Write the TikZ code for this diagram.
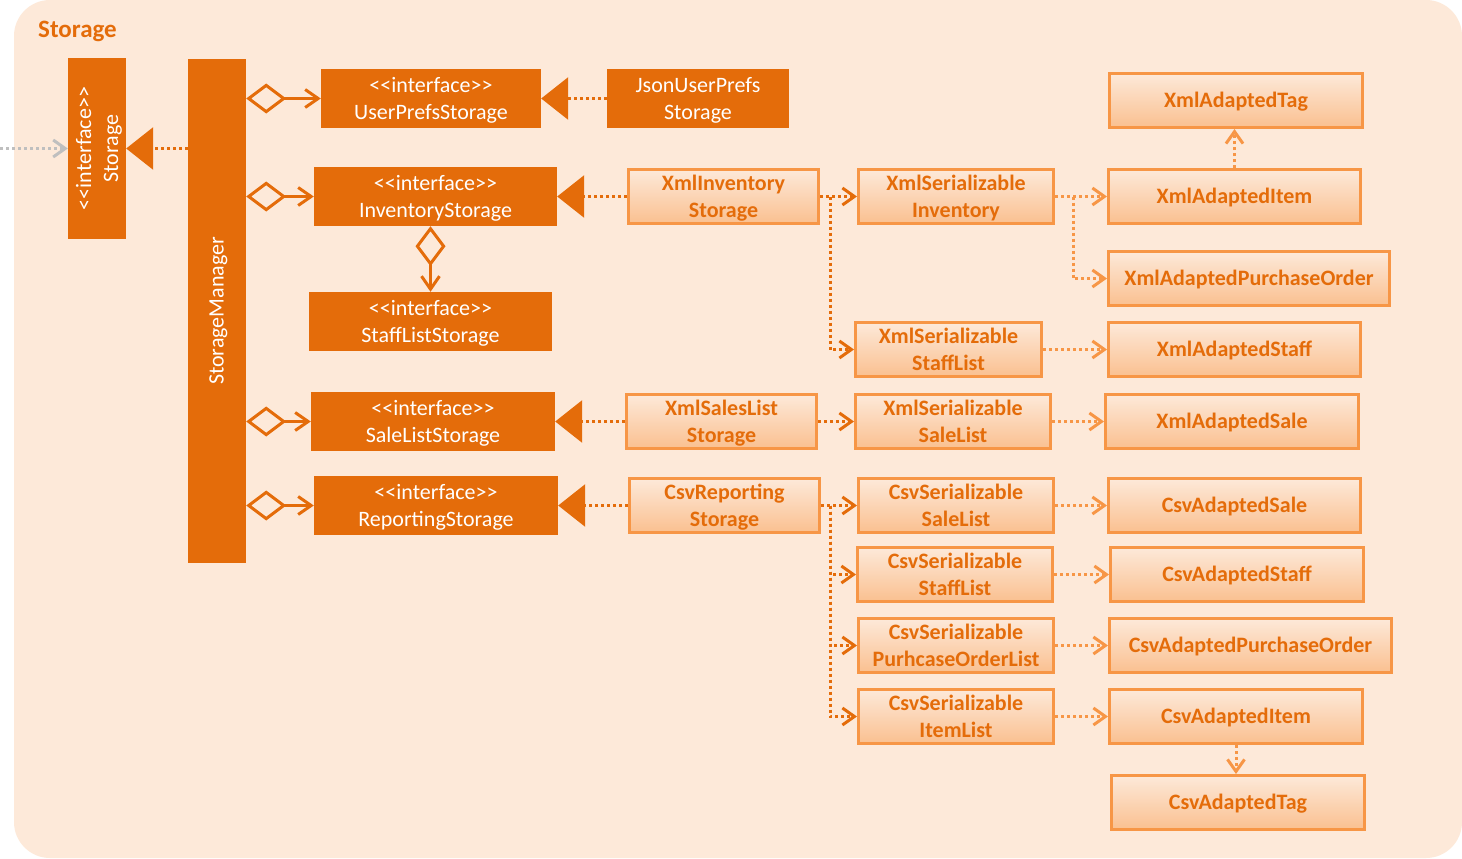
\documentclass[tikz,border=0pt]{standalone}
\usepackage{fontspec}
\setmainfont{Carlito}
\usetikzlibrary{arrows.meta,calc}
\definecolor{panelbg}{HTML}{FDE9D9}
\definecolor{dorange}{HTML}{E46C0A}
\definecolor{lorange}{HTML}{F79646}
\definecolor{gradbot}{HTML}{FAC090}
\definecolor{arrgray}{HTML}{BFBFBF}
\newcommand\ifacetext{<\kern0pt<interface>\kern0pt>}
\newcommand\dbox[7]{\node[darkbox, #7, minimum width={#4-#2}, minimum height={#5-#3}] (#1) at ({(#2+#4)/2},{(#3+#5)/2}) {#6};}
\newcommand\lbox[7]{\node[lightbox, #7, minimum width={#4-#2-3}, minimum height={#5-#3-3}] (#1) at ({(#2+#4)/2},{(#3+#5)/2}) {#6};}
\begin{document}
\begin{tikzpicture}[x=1pt,y=-1pt,
  darkbox/.style={fill=dorange, draw=none, text=white, align=center, inner sep=0pt, font=\fontsize{22}{27}\selectfont},
  lightbox/.style={draw=lorange, line width=3pt, top color=panelbg, bottom color=gradbot, text=dorange, align=center, inner sep=0pt, font=\bfseries\fontsize{22}{27}\selectfont},
  twoline/.style={text height=44pt, text depth=2pt},
  oneline/.style={text height=17pt, text depth=4pt},
  rotlabel/.style={rotate=90, text=white, align=center, inner sep=0pt, font=\fontsize{22}{27}\selectfont},
  agg/.style={draw=dorange, line width=3pt, arrows={Diamond[open, length=40pt, width=30pt]-Straight Barb[length=13pt, width=18pt]}},
  real/.style={draw=dorange, line width=3pt, dash pattern=on 3pt off 3pt, arrows={-Triangle[length=27pt, width=42pt]}},
  dep/.style={draw=dorange, line width=3pt, dash pattern=on 3pt off 3pt, arrows={-Straight Barb[length=12pt, width=17pt]}},
  depl/.style={dep, draw=lorange},
  gdep/.style={dep, draw=arrgray}]
\useasboundingbox (0,0) rectangle (1462,859);
\fill[white] (0,0) rectangle (1462,859);
\fill[panelbg, rounded corners=36pt] (14,0) rectangle (1462,858);
\node[anchor=west, text=dorange, inner sep=0pt, font=\bfseries\fontsize{25}{28}\selectfont] (title) at (38,31) {Storage};
% dark boxes
\dbox{storage}{68}{58}{126}{239}{}{}
\node[rotlabel, twoline] (storagelbl) at (storage) {\ifacetext\\Storage};
\dbox{sm}{188}{59}{246}{563}{}{}
\node[rotlabel, oneline] (smlbl) at (sm) {StorageManager};
\dbox{ups}{321}{69}{541}{128}{\ifacetext\\UserPrefsStorage}{twoline}
\dbox{json}{607}{69}{789}{128}{JsonUserPrefs\\Storage}{twoline}
\dbox{inv}{314}{167}{557}{226}{\ifacetext\\InventoryStorage}{twoline}
\dbox{staff}{309}{292}{552}{351}{\ifacetext\\StaffListStorage}{twoline}
\dbox{sale}{311}{392}{555}{451}{\ifacetext\\SaleListStorage}{twoline}
\dbox{rep}{314}{476}{558}{535}{\ifacetext\\ReportingStorage}{twoline}
% light boxes
\lbox{xinv}{627}{168}{820}{225}{XmlInventory\\Storage}{twoline}
\lbox{xsinv}{857}{168}{1055}{225}{XmlSerializable\\Inventory}{twoline}
\lbox{xtag}{1108}{72}{1364}{129}{XmlAdaptedTag}{oneline}
\lbox{xitem}{1107}{168}{1362}{225}{XmlAdaptedItem}{oneline}
\lbox{xpo}{1107}{250}{1391}{307}{XmlAdaptedPurchaseOrder}{oneline}
\lbox{xsstaff}{854}{321}{1043}{378}{XmlSerializable\\StaffList}{twoline}
\lbox{xstaff}{1107}{321}{1362}{378}{XmlAdaptedStaff}{oneline}
\lbox{xsales}{625}{393}{818}{450}{XmlSalesList\\Storage}{twoline}
\lbox{xssale}{854}{393}{1052}{450}{XmlSerializable\\SaleList}{twoline}
\lbox{xsale}{1104}{393}{1360}{450}{XmlAdaptedSale}{oneline}
\lbox{crep}{628}{477}{821}{534}{CsvReporting\\Storage}{twoline}
\lbox{cssale}{857}{477}{1055}{534}{CsvSerializable\\SaleList}{twoline}
\lbox{csale}{1107}{477}{1362}{534}{CsvAdaptedSale}{oneline}
\lbox{csstaff}{856}{546}{1054}{603}{CsvSerializable\\StaffList}{twoline}
\lbox{cstaff}{1109}{546}{1365}{603}{CsvAdaptedStaff}{oneline}
\lbox{cspo}{857}{617}{1055}{674}{CsvSerializable\\PurhcaseOrderList}{twoline}
\lbox{cpo}{1108}{617}{1393}{674}{CsvAdaptedPurchaseOrder}{oneline}
\lbox{csitem}{857}{688}{1055}{745}{CsvSerializable\\ItemList}{twoline}
\lbox{citem}{1108}{688}{1364}{745}{CsvAdaptedItem}{oneline}
\lbox{ctag}{1110}{774}{1366}{831}{CsvAdaptedTag}{oneline}
% connectors
\coordinate (ext) at (0,148.5);
\draw[gdep] (ext) -- (storage.west);
\draw[real] (sm.west |- storage.east) -- (storage.east);
\draw[agg] (sm.east |- ups.west) -- (ups.west);
\draw[agg] (sm.east |- inv.west) -- (inv.west);
\draw[agg] (sm.east |- sale.west) -- (sale.west);
\draw[agg] (sm.east |- rep.west) -- (rep.west);
\draw[agg] (inv.south -| staff.north) -- (staff.north);
\draw[real] (json.west) -- (ups.east);
\draw[real] (xinv.west) -- (inv.east);
\draw[real] (xsales.west) -- (sale.east);
\draw[real] (crep.west) -- (rep.east);
\draw[dep] (xinv.east) -- (xsinv.west);
\coordinate (bx1) at ($(xinv.east)+(10,0)$);
\draw[dep] (bx1) |- (xsstaff.west);
\draw[depl] (xsinv.east) -- (xitem.west);
\coordinate (bx2) at ($(xsinv.east)+(18,0)$);
\draw[depl] (bx2) |- (xpo.west);
\draw[depl] (xitem.north) -- (xitem.north |- xtag.south);
\draw[depl] (xsstaff.east) -- (xstaff.west);
\draw[dep] (xsales.east) -- (xssale.west);
\draw[depl] (xssale.east) -- (xsale.west);
\draw[dep] (crep.east) -- (cssale.west);
\coordinate (bx3) at ($(crep.east)+(9,0)$);
\draw[dep] (bx3) |- (csstaff.west);
\draw[dep] (bx3) |- (cspo.west);
\draw[dep] (bx3) |- (csitem.west);
\draw[depl] (cssale.east) -- (csale.west);
\draw[depl] (csstaff.east) -- (cstaff.west);
\draw[depl] (cspo.east) -- (cpo.west);
\draw[depl] (csitem.east) -- (citem.west);
\draw[depl] (citem.south) -- (citem.south |- ctag.north);
\end{tikzpicture}
\end{document}
